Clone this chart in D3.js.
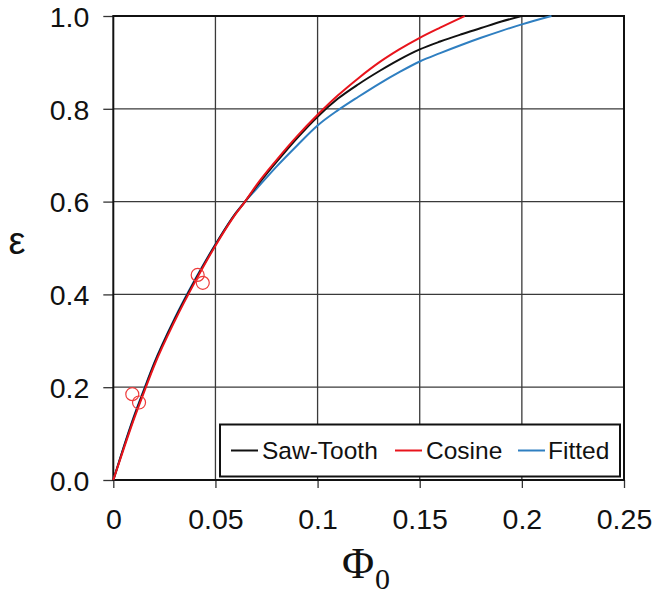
<!DOCTYPE html>
<html>
<head>
<meta charset="utf-8">
<script src="https://cdn.jsdelivr.net/npm/d3@7"></script>
<style>
  html, body { margin: 0; padding: 0; background: #fff; }
  svg { display: block; }
  text { font-family: "Liberation Sans", Arial, sans-serif; fill: #111; }
</style>
</head>
<body>
<svg id="chart" width="658" height="597"></svg>
<script>
// ---- data ----
const xTicks = [0, 0.05, 0.1, 0.15, 0.2, 0.25];
const xTickLabels = ["0", "0.05", "0.1", "0.15", "0.2", "0.25"];
const yTicks = [0, 0.2, 0.4, 0.6, 0.8, 1.0];
const yTickLabels = ["0.0", "0.2", "0.4", "0.6", "0.8", "1.0"];

const seriesNames = ["Saw-Tooth", "Cosine", "Fitted"];

const sawToothPhi = [0, 0.005, 0.01, 0.0156, 0.02, 0.03, 0.04, 0.05, 0.06, 0.0645, 0.07, 0.08, 0.09, 0.1, 0.11, 0.12, 0.1305, 0.14, 0.15, 0.16, 0.17, 0.18, 0.19, 0.2];
const sawToothEps = [0, 0.069, 0.134, 0.2, 0.25, 0.346, 0.43, 0.507, 0.575, 0.6, 0.632, 0.686, 0.737, 0.783, 0.822, 0.853, 0.882, 0.906, 0.928, 0.945, 0.96, 0.974, 0.988, 1.0];

const cosinePhi = [0, 0.005, 0.01, 0.0156, 0.02, 0.03, 0.04, 0.05, 0.06, 0.0645, 0.07, 0.08, 0.09, 0.1, 0.11, 0.12, 0.1305, 0.14, 0.15, 0.16, 0.172];
const cosineEps = [0, 0.066, 0.13, 0.196, 0.246, 0.342, 0.427, 0.505, 0.574, 0.6, 0.635, 0.69, 0.741, 0.787, 0.829, 0.866, 0.901, 0.928, 0.953, 0.975, 1.0];

const fittedPhi = [0, 0.005, 0.01, 0.0156, 0.02, 0.03, 0.04, 0.05, 0.06, 0.0645, 0.07, 0.08, 0.09, 0.1, 0.11, 0.12, 0.1305, 0.14, 0.15, 0.16, 0.17, 0.18, 0.19, 0.2, 0.2145];
const fittedEps = [0, 0.07, 0.136, 0.202, 0.252, 0.348, 0.432, 0.508, 0.576, 0.6, 0.627, 0.676, 0.721, 0.764, 0.797, 0.826, 0.855, 0.879, 0.902, 0.92, 0.937, 0.953, 0.968, 0.982, 1.0];

// experimental points (red circles)
const pointPhi = [0.0093, 0.0126, 0.0413, 0.0438];
const pointEps = [0.185, 0.167, 0.442, 0.425];

// ---- drawing ----
const svg = d3.select("#chart");
const x = d3.scaleLinear().domain([0, 0.25]).range([113.3, 624]);
const y = d3.scaleLinear().domain([0, 1]).range([480, 16]);

const colors = { "Saw-Tooth": "#111111", "Cosine": "#e8141c", "Fitted": "#2f7fc1" };

// grid
const g = svg.append("g");
g.selectAll("line.vg").data(xTicks.filter(d => d > 0 && d < 0.25)).enter().append("line")
  .attr("x1", d => x(d)).attr("x2", d => x(d)).attr("y1", y(1)).attr("y2", y(0))
  .attr("stroke", "#3a3a3a").attr("stroke-width", 1.3);
g.selectAll("line.hg").data(yTicks.filter(d => d > 0 && d < 1)).enter().append("line")
  .attr("x1", x(0)).attr("x2", x(0.25)).attr("y1", d => y(d)).attr("y2", d => y(d))
  .attr("stroke", "#3a3a3a").attr("stroke-width", 1.3);

// axes using d3 axis generators
const xAxis = d3.axisBottom(x).tickValues(xTicks).tickFormat((d, i) => xTickLabels[i]).tickSize(8).tickPadding(21);
const yAxis = d3.axisLeft(y).tickValues(yTicks).tickFormat((d, i) => yTickLabels[i]).tickSize(10).tickPadding(14);

const gx = svg.append("g").attr("transform", `translate(0,${y(0)})`).call(xAxis);
const gy = svg.append("g").attr("transform", `translate(${x(0)},0)`).call(yAxis);
[gx, gy].forEach(a => {
  a.select(".domain").remove();
  a.selectAll(".tick line").attr("stroke", "#333").attr("stroke-width", 1.3);
  a.selectAll(".tick text").style("font-family", '"Liberation Sans", Arial, sans-serif')
    .style("font-size", "28.5px").attr("fill", "#111");
});
gy.selectAll(".tick text").attr("dy", "0.36em");

// frame
svg.append("rect").attr("x", x(0)).attr("y", y(1)).attr("width", x(0.25) - x(0)).attr("height", y(0) - y(1))
  .attr("fill", "none").attr("stroke", "#111").attr("stroke-width", 2);

// curves
const line = d3.line().x(d => x(d[0])).y(d => y(d[1])).curve(d3.curveMonotoneX);
const series = [
  { name: "Saw-Tooth", phi: sawToothPhi, eps: sawToothEps },
  { name: "Fitted", phi: fittedPhi, eps: fittedEps },
  { name: "Cosine", phi: cosinePhi, eps: cosineEps }
];
const drawOrder = ["Fitted", "Saw-Tooth", "Cosine"];
drawOrder.forEach(n => {
  const s = series.find(v => v.name === n);
  svg.append("path").datum(s.phi.map((p, i) => [p, s.eps[i]]))
    .attr("d", line).attr("fill", "none").attr("stroke", colors[n]).attr("stroke-width", 2);
});

// points
svg.selectAll("circle.pt").data(pointPhi.map((p, i) => [p, pointEps[i]])).enter().append("circle")
  .attr("cx", d => x(d[0])).attr("cy", d => y(d[1])).attr("r", 6.5)
  .attr("fill", "none").attr("stroke", "#ee3a3a").attr("stroke-width", 1.2);

// axis titles
svg.append("text").attr("x", 17).attr("y", 241).attr("text-anchor", "middle").attr("dominant-baseline", "central")
  .style("font-size", "38px").text("ε");
const xt = svg.append("text").attr("x", 366).attr("y", 578).attr("text-anchor", "middle")
  .style("font-family", '"Liberation Serif", "Times New Roman", serif').style("font-size", "44px");
xt.append("tspan").text("Φ");
xt.append("tspan").attr("dy", 11).style("font-size", "30px").attr("dx", 1).text("0");

// legend
const lg = svg.append("g");
lg.append("rect").attr("x", 220).attr("y", 424.5).attr("width", 400).attr("height", 52)
  .attr("fill", "#fff").attr("stroke", "#111").attr("stroke-width", 2);
const legendItems = [
  { name: "Saw-Tooth", lx: 231, tx: 262 },
  { name: "Cosine", lx: 395, tx: 426 },
  { name: "Fitted", lx: 518, tx: 548 }
];
legendItems.forEach(it => {
  lg.append("line").attr("x1", it.lx).attr("x2", it.lx + 27).attr("y1", 450.5).attr("y2", 450.5)
    .attr("stroke", colors[it.name]).attr("stroke-width", 2);
  lg.append("text").attr("x", it.tx).attr("y", 459).style("font-size", "24.5px").text(it.name);
});
</script>
</body>
</html>
